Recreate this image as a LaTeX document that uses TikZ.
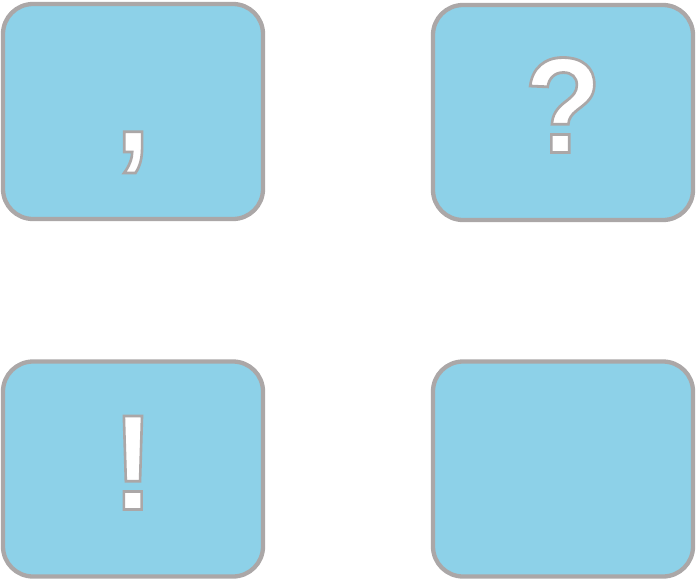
\documentclass[tikz,border=0pt]{standalone}
\usepackage{fontspec}
\setmainfont{Liberation Sans}
\definecolor{boxfill}{RGB}{141,209,232}
\definecolor{boxline}{RGB}{171,167,167}
\newcommand{\outlinedglyph}[1]{\scalebox{0.93}[1]{{\color{white}\special{pdf:literal direct 2 Tr 2.8 w 0 j 0.671 0.655 0.655 RG}#1\special{pdf:literal direct 0 Tr}}}}
\begin{document}
\begin{tikzpicture}[x=1pt,y=-1pt,
  cardbox/.style={draw=boxline, fill=boxfill, line width=4.3pt, rounded corners=30pt,
    minimum width=260pt, minimum height=215pt, inner sep=0pt},
  glyph/.style={font=\fontsize{136}{136}\selectfont\bfseries, inner sep=0pt, anchor=base}]
\useasboundingbox (0,0) rectangle (696,582);
\node[cardbox] (b1) at (133,111.5) {};
\node[cardbox] (b2) at (563,112.5) {};
\node[cardbox] (b3) at (133,469) {};
\node[cardbox] (b4) at (563,469) {};
\node[glyph] (t1) at (133,152) {\outlinedglyph{,}};
\node[glyph] (t2) at (563,152.5) {\outlinedglyph{?}};
\node[glyph] (t3) at (133,509.5) {\outlinedglyph{!}};
\end{tikzpicture}
\end{document}
